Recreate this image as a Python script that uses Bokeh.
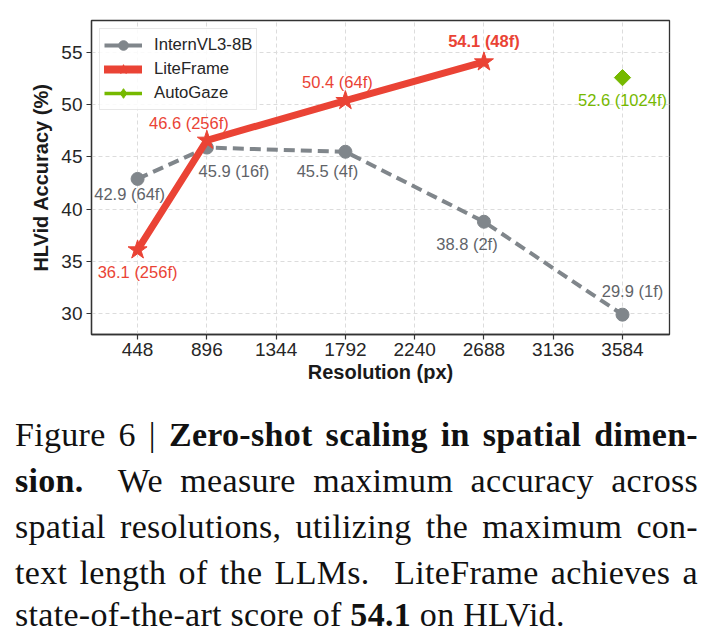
import math
import numpy as np
from bokeh.plotting import figure
from bokeh.models import ColumnDataSource, FixedTicker, Range1d, Legend, LegendItem, Div
from bokeh.layouts import column
from bokeh.embed import file_html
from bokeh.resources import INLINE
from bokeh.core.properties import value

# ---------------- data ----------------
x_ticks = [448, 896, 1344, 1792, 2240, 2688, 3136, 3584]
y_ticks = [30, 35, 40, 45, 50, 55]

series_names = ["InternVL3-8B", "LiteFrame", "AutoGaze"]

intern_res = [448, 896, 1792, 2688, 3584]
intern_acc = [42.9, 45.9, 45.5, 38.8, 29.9]
intern_frames = ["64f", "16f", "4f", "2f", "1f"]

lite_res = [448, 896, 1792, 2688]
lite_acc = [36.1, 46.6, 50.4, 54.1]
lite_frames = ["256f", "256f", "64f", "48f"]

auto_res = [3584]
auto_acc = [52.6]
auto_frames = ["1024f"]

caption_lines = [
    'Figure 6 | <b>Zero-shot scaling in spatial dimen-</b>',
    '<b>sion.</b>&nbsp; We measure maximum accuracy across',
    'spatial resolutions, utilizing the maximum con-',
    'text length of the LLMs.&nbsp; LiteFrame achieves a',
    'state-of-the-art score of <b>54.1</b> on HLVid.',
]

# ---------------- styles ----------------
GRAY = "#80868b"
GRAY_TXT = "#5f6368"
RED = "#ea4335"
GREEN = "#76b900"
SANS = "Liberation Sans"

# label offsets in screen pixels (positive dy = down)
intern_dx = [-8, 27, -18, -17, 10]
intern_dy = [15, 23, 19, 22, -24]
lite_dx = [0, -18, -8, 0]
lite_dy = [22, -17, -19, -21]
lite_font_style = ["normal", "normal", "normal", "bold"]
auto_dx = [0]
auto_dy = [22]


def labels(acc, frames):
    return [f"{a:.1f} ({f})" for a, f in zip(acc, frames)]


p = figure(width=714, height=400,
           x_range=Range1d(150, 3888), y_range=Range1d(28, 58.07),
           output_backend="svg", toolbar_location=None,
           min_border_left=91, min_border_right=45,
           min_border_top=20, min_border_bottom=66)
p.background_fill_color = "white"
p.border_fill_color = "white"
p.outline_line_color = "#333333"
p.outline_line_width = 1.3
p.outline_line_alpha = 1.0

for ax, ticks in ((p.xaxis, x_ticks), (p.yaxis, y_ticks)):
    ax.ticker = FixedTicker(ticks=ticks)
    ax.major_label_text_font = SANS
    ax.major_label_text_font_size = "19px"
    ax.major_label_text_color = "#262626"
    ax.axis_label_text_font = SANS
    ax.axis_label_text_font_size = "20px"
    ax.axis_label_text_font_style = "bold"
    ax.axis_label_text_color = "#1a1a1a"
    ax.major_tick_out = 5
    ax.major_tick_in = 0
    ax.minor_tick_out = 0
    ax.minor_tick_in = 0
    ax.axis_line_color = "#333333"
    ax.axis_line_width = 1.3
    ax.major_tick_line_color = "#333333"
    ax.major_tick_line_width = 1.2

p.xaxis.axis_label = "Resolution (px)"
p.yaxis.axis_label = "HLVid Accuracy (%)"
p.xaxis.major_label_standoff = 3
p.yaxis.major_label_standoff = 4
p.xaxis.axis_label_standoff = 2
p.yaxis.axis_label_standoff = 6

for g in (p.xgrid, p.ygrid):
    g.grid_line_color = "#dcdcdc"
    g.grid_line_dash = "4 3"
    g.grid_line_width = 1

src_i = ColumnDataSource(dict(x=intern_res, y=intern_acc, label=labels(intern_acc, intern_frames),
                              dx=intern_dx, dy=intern_dy))
src_l = ColumnDataSource(dict(x=lite_res, y=lite_acc, label=labels(lite_acc, lite_frames),
                              dx=lite_dx, dy=lite_dy, fs=lite_font_style))
src_a = ColumnDataSource(dict(x=auto_res, y=auto_acc, label=labels(auto_acc, auto_frames),
                              dx=auto_dx, dy=auto_dy))

# InternVL3-8B
p.line('x', 'y', source=src_i, line_color=GRAY, line_width=4, line_dash="11 6")
p.scatter('x', 'y', source=src_i, marker="circle", size=13, fill_color=GRAY, line_color=GRAY)
# LiteFrame
p.line('x', 'y', source=src_l, line_color=RED, line_width=7, line_join="round")
p.scatter('x', 'y', source=src_l, marker="star", size=20, fill_color=RED, line_color=RED)
# AutoGaze
p.scatter('x', 'y', source=src_a, marker="square", angle=math.pi / 4, size=11.5,
          fill_color=GREEN, line_color=GREEN)

# point labels
p.text('x', 'y', text='label', source=src_i, x_offset='dx', y_offset='dy',
       text_font=value(SANS), text_font_size="16.5px", text_color=GRAY_TXT,
       text_align="center", text_baseline="middle")
p.text('x', 'y', text='label', source=src_l, x_offset='dx', y_offset='dy',
       text_font=value(SANS), text_font_size="16.5px", text_font_style='fs', text_color=RED,
       text_align="center", text_baseline="middle")
p.text('x', 'y', text='label', source=src_a, x_offset='dx', y_offset='dy',
       text_font=value(SANS), text_font_size="16.5px", text_color=GREEN,
       text_align="center", text_baseline="middle")


# legend-only glyphs (a single NaN point: nothing is drawn in the plot area)
def nan_src():
    return ColumnDataSource(dict(x=np.array([np.nan]), y=np.array([np.nan])))


li_line = p.line('x', 'y', source=nan_src(), line_color=GRAY, line_width=4)
li_mark = p.scatter('x', 'y', source=nan_src(), marker="circle",
                    fill_color=GRAY, line_color=GRAY)
ll_line = p.line('x', 'y', source=nan_src(), line_color=RED, line_width=8, line_cap="round")
ll_mark = p.scatter('x', 'y', source=nan_src(), marker="star",
                    fill_color=RED, line_color=RED)
la_line = p.line('x', 'y', source=nan_src(), line_color=GREEN, line_width=3.5)
la_mark = p.scatter('x', 'y', source=nan_src(), marker="diamond",
                    fill_color=GREEN, line_color=GREEN)

legend = Legend(items=[
    LegendItem(label=series_names[0], renderers=[li_line, li_mark]),
    LegendItem(label=series_names[1], renderers=[ll_line, ll_mark]),
    LegendItem(label=series_names[2], renderers=[la_line, la_mark]),
], location="top_left")
legend.label_text_font = SANS
legend.label_text_font_size = "16.7px"
legend.label_text_color = "#262626"
legend.glyph_width = 38
legend.glyph_height = 24
legend.label_height = 20
legend.spacing = 0
legend.padding = 4
legend.margin = 8
legend.label_standoff = 12
legend.border_line_color = "#d0d0d0"
legend.border_line_width = 1
legend.background_fill_alpha = 0.85
p.add_layout(legend)

# caption
rows = []
n = len(caption_lines)
for i, line in enumerate(caption_lines):
    last = "justify" if i < n - 1 else "left"
    lh = "46px" if i < n - 1 else "38px"
    rows.append(f'<div style="text-align:justify;text-align-last:{last};line-height:{lh};">{line}</div>')
html = ('<div style="width:683px;margin-left:15px;padding-top:12px;'
        'font-family:\'Liberation Serif\';font-size:34px;'
        'letter-spacing:0.3px;color:#111;">'
        + "".join(rows) + '</div>')
cap = Div(text=html, width=714, height=240, margin=0)

layout = column(p, cap, spacing=0)
open("out.html", "w").write(file_html(layout, INLINE))
